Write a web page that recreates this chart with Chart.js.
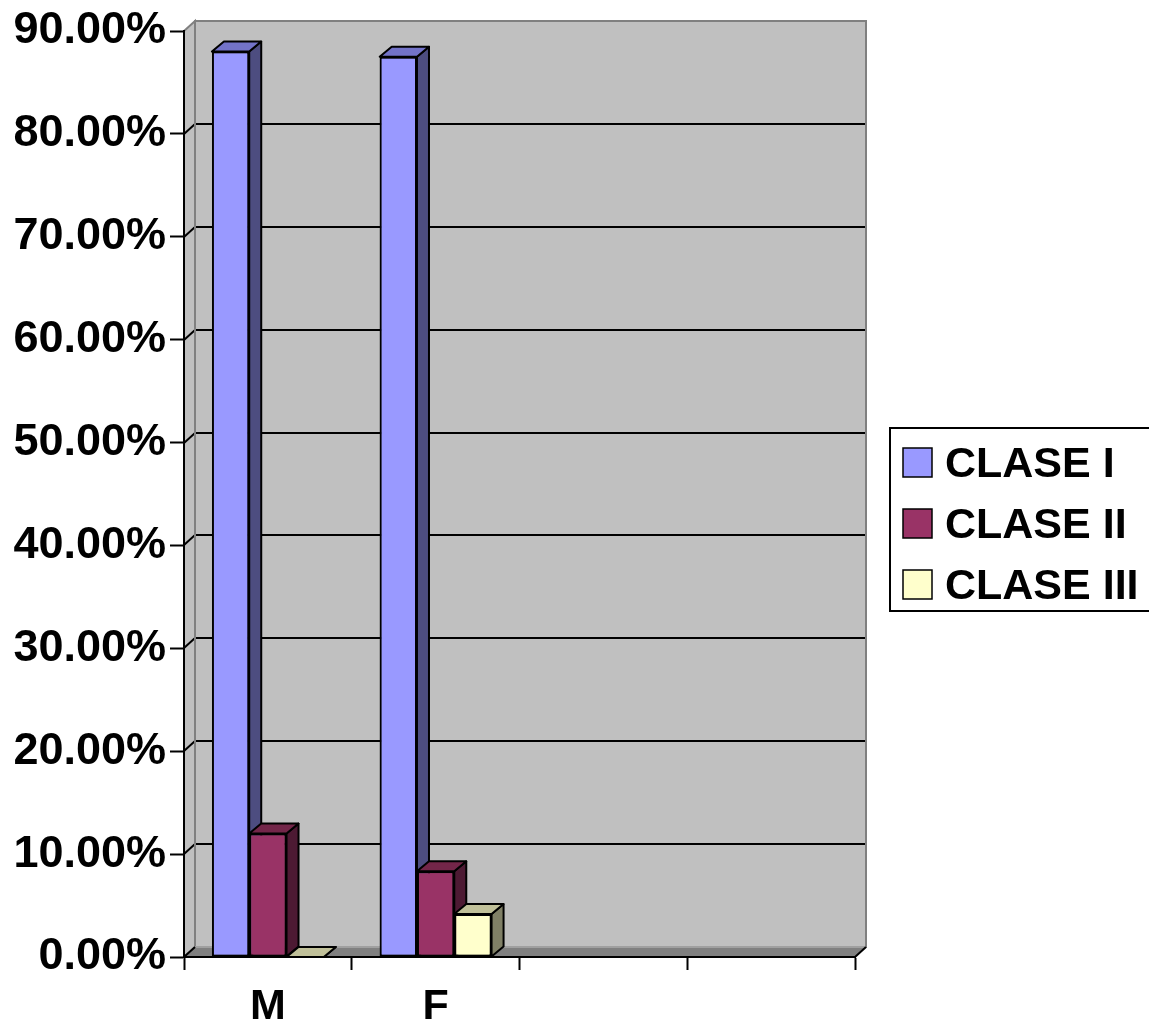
<!DOCTYPE html>
<html>
<head>
<meta charset="utf-8">
<script src="https://cdn.jsdelivr.net/npm/chart.js@4/dist/chart.umd.min.js"></script>
<style>
  html, body { margin: 0; padding: 0; background: #ffffff; }
  #wrap { width: 1149px; height: 1029px; position: relative; }
</style>
</head>
<body>
<div id="wrap"><canvas id="chart"></canvas></div>
<script>
// Categories along the x axis (the last two slots are empty)
const categories = ['M', 'F', '', ''];

// Series names
const seriesNames = ['CLASE I', 'CLASE II', 'CLASE III'];

// Series values (fractions, shown as percentages)
const claseI   = [0.88, 0.875, null, null];
const claseII  = [0.12, 0.0833, null, null];
const claseIII = [0.0, 0.0417, null, null];

// Y axis tick values
const yTickValues = [0, 0.1, 0.2, 0.3, 0.4, 0.5, 0.6, 0.7, 0.8, 0.9];

// Colours: front, top and side faces of each series
const frontColors = ['#9999FF', '#993366', '#FFFFCC'];
const topColors   = ['#7373C8', '#732649', '#C0C099'];
const sideColors  = ['#4D4D80', '#4D1A33', '#808066'];

const FONT_FAMILY = '"Liberation Sans", Arial, Helvetica, sans-serif';

// Oblique depth of the walls and of the bars
const WALL_DX = 11, WALL_DY = -10;
const BAR_DX = 12, BAR_DY = -10;

function poly(ctx, pts) {
  ctx.beginPath();
  ctx.moveTo(pts[0][0], pts[0][1]);
  for (let i = 1; i < pts.length; i++) ctx.lineTo(pts[i][0], pts[i][1]);
  ctx.closePath();
}

// Back wall, side wall, floor and the gridlines on the walls
const wallsPlugin = {
  id: 'walls',
  beforeDatasetsDraw(chart) {
    const { ctx, chartArea: a, scales: { y } } = chart;
    ctx.save();
    // back wall
    ctx.fillStyle = '#C0C0C0';
    ctx.fillRect(a.left + WALL_DX, a.top + WALL_DY, a.right - a.left, a.bottom - a.top);
    // left side wall
    poly(ctx, [[a.left, a.top], [a.left + WALL_DX, a.top + WALL_DY],
               [a.left + WALL_DX, a.bottom + WALL_DY], [a.left, a.bottom]]);
    ctx.fill();
    // floor
    ctx.fillStyle = '#808080';
    poly(ctx, [[a.left, a.bottom], [a.right, a.bottom],
               [a.right + WALL_DX, a.bottom + WALL_DY], [a.left + WALL_DX, a.bottom + WALL_DY]]);
    ctx.fill();

    // gridlines: across the side wall and the back wall
    ctx.strokeStyle = '#000000';
    ctx.lineWidth = 2;
    const maxV = yTickValues[yTickValues.length - 1];
    yTickValues.forEach(v => {
      if (v <= 0 || v >= maxV) return;
      const py = Math.round(y.getPixelForValue(v));
      ctx.beginPath();
      ctx.moveTo(a.left, py);
      ctx.lineTo(a.left + WALL_DX, py + WALL_DY);
      ctx.lineTo(a.right + WALL_DX, py + WALL_DY);
      ctx.stroke();
    });

    // wall outlines
    ctx.strokeStyle = '#808080';
    ctx.lineWidth = 2;
    ctx.strokeRect(a.left + WALL_DX, a.top + WALL_DY, a.right - a.left, a.bottom - a.top);
    poly(ctx, [[a.left, a.top], [a.left + WALL_DX, a.top + WALL_DY],
               [a.left + WALL_DX, a.bottom + WALL_DY], [a.left, a.bottom]]);
    ctx.stroke();
    ctx.strokeStyle = '#A0A0A0';
    ctx.beginPath();
    ctx.moveTo(a.left + WALL_DX, a.bottom + WALL_DY);
    ctx.lineTo(a.right + WALL_DX, a.bottom + WALL_DY);
    ctx.stroke();

    // floor front edge corners
    ctx.strokeStyle = '#000000';
    ctx.beginPath();
    ctx.moveTo(a.right, a.bottom);
    ctx.lineTo(a.right + WALL_DX, a.bottom + WALL_DY);
    ctx.moveTo(a.left, a.bottom);
    ctx.lineTo(a.left + WALL_DX, a.bottom + WALL_DY);
    ctx.stroke();
    ctx.restore();
  }
};

// Bars redrawn series by series, left to right, each with its top and side
// faces, so that a bar further right covers the side face of its neighbour
const barDepthPlugin = {
  id: 'barDepth',
  afterDatasetsDraw(chart) {
    const { ctx } = chart;
    ctx.save();
    chart.data.datasets.forEach((ds, i) => {
      const meta = chart.getDatasetMeta(i);
      meta.data.forEach((el, j) => {
        const v = ds.data[j];
        if (v === null || v === undefined) return;
        el.draw(ctx);
        const p = el.getProps(['x', 'y', 'base', 'width'], true);
        const l = p.x - p.width / 2, r = p.x + p.width / 2;
        const t = p.y, b = p.base;
        ctx.strokeStyle = '#000000';
        ctx.lineWidth = 2;
        ctx.lineJoin = 'round';
        // side face
        ctx.fillStyle = sideColors[i];
        poly(ctx, [[r, t], [r + BAR_DX, t + BAR_DY], [r + BAR_DX, b + BAR_DY], [r, b]]);
        ctx.fill();
        ctx.stroke();
        // top face
        ctx.fillStyle = topColors[i];
        poly(ctx, [[l, t], [r, t], [r + BAR_DX, t + BAR_DY], [l + BAR_DX, t + BAR_DY]]);
        ctx.fill();
        ctx.stroke();
      });
    });
    ctx.restore();
  }
};

// Boxed legend at the right
const legendPlugin = {
  id: 'boxLegend',
  afterDraw(chart) {
    const { ctx } = chart;
    const boxX = 890, boxY = 428, boxW = 300, boxH = 183;
    const swX = 903, sw = 29, rowTops = [448, 509, 570], textX = 945;
    ctx.save();
    ctx.strokeStyle = '#000000';
    ctx.lineWidth = 2;
    ctx.strokeRect(boxX, boxY, boxW, boxH);
    ctx.font = 'bold 43px ' + FONT_FAMILY;
    ctx.textBaseline = 'alphabetic';
    ctx.textAlign = 'left';
    chart.data.datasets.forEach((ds, i) => {
      const top = rowTops[i];
      ctx.fillStyle = ds.backgroundColor;
      ctx.fillRect(swX, top, sw, sw);
      ctx.lineWidth = 1.5;
      ctx.strokeRect(swX, top, sw, sw);
      ctx.fillStyle = '#000000';
      ctx.fillText(ds.label, textX, top + sw);
    });
    ctx.restore();
  }
};

const seriesValues = [claseI, claseII, claseIII];

new Chart(document.getElementById('chart'), {
  type: 'bar',
  data: {
    labels: categories,
    datasets: seriesValues.map((vals, i) => ({
      label: seriesNames[i],
      data: vals,
      backgroundColor: frontColors[i],
      borderColor: '#000000',
      borderWidth: 2,
      borderSkipped: false,
      categoryPercentage: 0.667,
      barPercentage: 1.0
    }))
  },
  options: {
    responsive: true,
    maintainAspectRatio: false,
    animation: false,
    devicePixelRatio: 1,
    layout: { padding: { left: 0, top: 29, right: 294, bottom: 0 } },
    plugins: {
      legend: { display: false },
      tooltip: { enabled: false }
    },
    scales: {
      x: {
        offset: true,
        afterFit(scale) { scale.height = 72; },
        grid: {
          offset: true,
          drawOnChartArea: false,
          drawTicks: true,
          tickLength: 13,
          tickColor: '#000000',
          tickWidth: 2
        },
        border: { display: true, color: '#000000', width: 2, z: 1 },
        ticks: {
          color: '#000000',
          padding: 11,
          font: { family: FONT_FAMILY, size: 43, weight: 'bold' },
          maxRotation: 0,
          autoSkip: false
        }
      },
      y: {
        min: 0,
        max: yTickValues[yTickValues.length - 1],
        afterFit(scale) { scale.width = 184; },
        afterBuildTicks(scale) { scale.ticks = yTickValues.map(v => ({ value: v })); },
        grid: {
          drawOnChartArea: false,
          drawTicks: true,
          tickLength: 14,
          tickColor: '#000000',
          tickWidth: 2
        },
        border: { display: true, color: '#000000', width: 2, z: 1 },
        ticks: {
          color: '#000000',
          padding: 4,
          font: { family: FONT_FAMILY, size: 45, weight: 'bold' },
          callback: v => (v * 100).toFixed(2) + '%'
        }
      }
    }
  },
  plugins: [wallsPlugin, barDepthPlugin, legendPlugin]
});
</script>
</body>
</html>
